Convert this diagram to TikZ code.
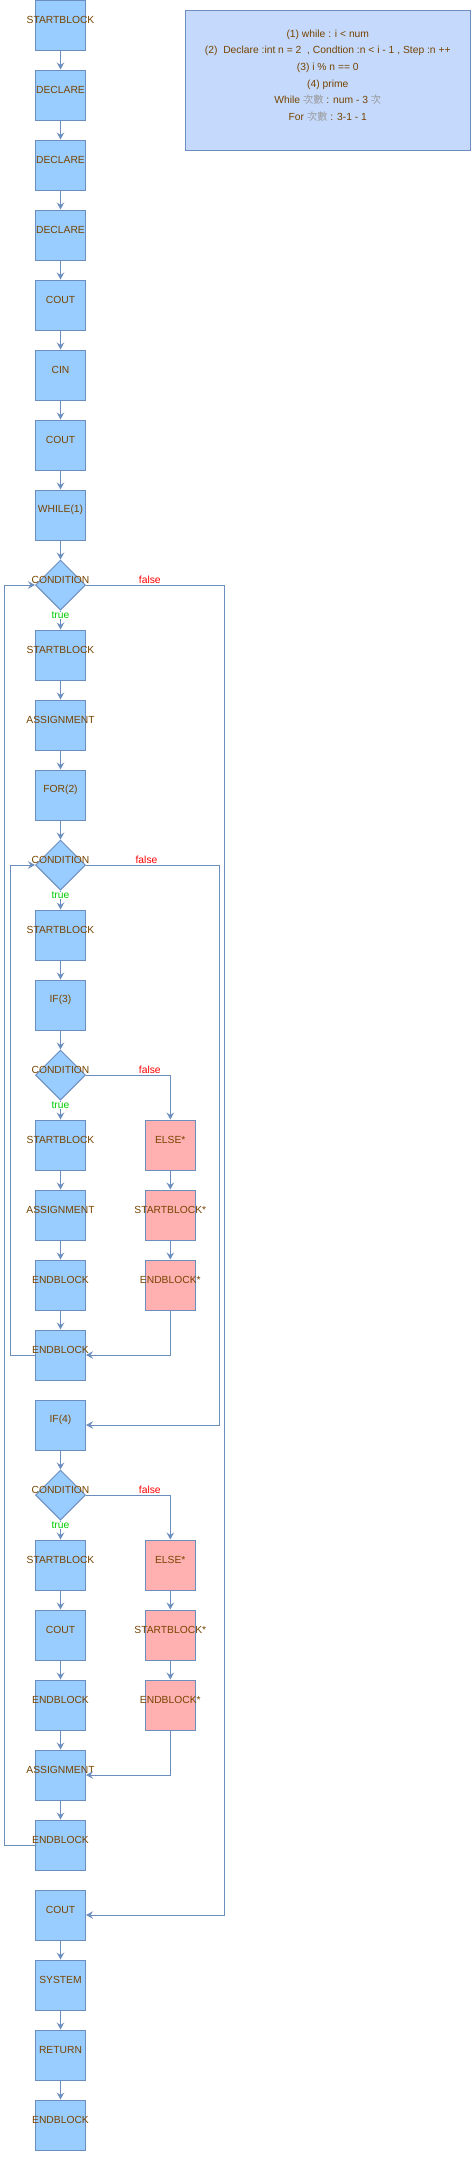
\documentclass[tikz,border=0pt]{standalone}
\usepackage{fontspec}
\setmainfont{Liberation Sans}
\newfontfamily\cjkfont{Noto Sans CJK TC}
\usetikzlibrary{shapes.geometric,arrows.meta,calc}
\definecolor{lineblue}{HTML}{6C8EBF}
\definecolor{boxblue}{HTML}{99CCFF}
\definecolor{boxpink}{HTML}{FFB0B0}
\definecolor{noteblue}{HTML}{C4D9FC}
\definecolor{txtbrown}{HTML}{774400}
\definecolor{truegreen}{HTML}{00CC00}
\definecolor{cjkgray}{HTML}{9A9A9A}
\newcommand{\nfont}{\fontsize{10.3}{12}\selectfont}
\newcommand{\cj}[1]{{\cjkfont\color{cjkgray}#1}}
\tikzset{
  box/.style={rectangle, draw=lineblue, fill=boxblue, line width=1pt, minimum width=50pt, minimum height=50pt, inner sep=0pt},
  pinkbox/.style={box, fill=boxpink},
  cond/.style={diamond, aspect=1, draw=lineblue, fill=boxblue, line width=1pt, minimum width=50pt, minimum height=50pt, inner sep=0pt},
  lbl/.style={text=txtbrown, font=\nfont, inner sep=0pt, yshift=5pt},
  arr/.style={draw=lineblue, line width=1pt, -{Stealth[length=7pt,width=7.5pt,inset=2.5pt]}},
  truel/.style={text=truegreen, font=\nfont, fill=white, inner sep=0.5pt},
  falsel/.style={text=red, font=\nfont, inner sep=0pt},
  notebox/.style={rectangle, draw=lineblue, fill=noteblue, line width=1pt, minimum width=285pt, minimum height=139.7pt, inner sep=0pt},
  notetext/.style={text=txtbrown, align=center, font=\fontsize{10.3}{16.7}\selectfont, inner sep=0pt}
}
\begin{document}
\begin{tikzpicture}[x=1pt,y=-1pt]
\useasboundingbox (0,0) rectangle (471,2172);
% note
\node[notebox] (note) at (327.8,80.15) {};
\node[notetext] (notet) at (327.8,75.5) {(1) while : i < num\\
(2)~ Declare :int n = 2~ , Condtion :n < i - 1 , Step :n ++\\
(3) i \% n == 0\\
(4) prime\\
While \cj{次數} : num - 3 \cj{次}\\
For \cj{次數} : 3-1 - 1};
% main column
\node[box, label={[lbl]center:STARTBLOCK}] (n0) at (60.5,25) {};
\node[box, label={[lbl]center:DECLARE}] (n1) at (60.5,95) {};
\node[box, label={[lbl]center:DECLARE}] (n2) at (60.5,165) {};
\node[box, label={[lbl]center:DECLARE}] (n3) at (60.5,235) {};
\node[box, label={[lbl]center:COUT}] (n4) at (60.5,305) {};
\node[box, label={[lbl]center:CIN}] (n5) at (60.5,375) {};
\node[box, label={[lbl]center:COUT}] (n6) at (60.5,445) {};
\node[box, label={[lbl]center:WHILE(1)}] (n7) at (60.5,515) {};
\node[cond, label={[lbl]center:CONDITION}] (c8) at (60.5,585) {};
\node[box, label={[lbl]center:STARTBLOCK}] (n9) at (60.5,655) {};
\node[box, label={[lbl]center:ASSIGNMENT}] (n10) at (60.5,725) {};
\node[box, label={[lbl]center:FOR(2)}] (n11) at (60.5,795) {};
\node[cond, label={[lbl]center:CONDITION}] (c12) at (60.5,865) {};
\node[box, label={[lbl]center:STARTBLOCK}] (n13) at (60.5,935) {};
\node[box, label={[lbl]center:IF(3)}] (n14) at (60.5,1005) {};
\node[cond, label={[lbl]center:CONDITION}] (c15) at (60.5,1075) {};
\node[box, label={[lbl]center:STARTBLOCK}] (n16) at (60.5,1145) {};
\node[box, label={[lbl]center:ASSIGNMENT}] (n17) at (60.5,1215) {};
\node[box, label={[lbl]center:ENDBLOCK}] (n18) at (60.5,1285) {};
\node[box, label={[lbl]center:ENDBLOCK}] (n19) at (60.5,1355) {};
\node[box, label={[lbl]center:IF(4)}] (n20) at (60.5,1425) {};
\node[cond, label={[lbl]center:CONDITION}] (c21) at (60.5,1495) {};
\node[box, label={[lbl]center:STARTBLOCK}] (n22) at (60.5,1565) {};
\node[box, label={[lbl]center:COUT}] (n23) at (60.5,1635) {};
\node[box, label={[lbl]center:ENDBLOCK}] (n24) at (60.5,1705) {};
\node[box, label={[lbl]center:ASSIGNMENT}] (n25) at (60.5,1775) {};
\node[box, label={[lbl]center:ENDBLOCK}] (n26) at (60.5,1845) {};
\node[box, label={[lbl]center:COUT}] (n27) at (60.5,1915) {};
\node[box, label={[lbl]center:SYSTEM}] (n28) at (60.5,1985) {};
\node[box, label={[lbl]center:RETURN}] (n29) at (60.5,2055) {};
\node[box, label={[lbl]center:ENDBLOCK}] (n30) at (60.5,2125) {};
% else columns
\node[pinkbox, label={[lbl]center:ELSE*}] (e16) at (170.3,1145) {};
\node[pinkbox, label={[lbl]center:STARTBLOCK*}] (e17) at (170.3,1215) {};
\node[pinkbox, label={[lbl]center:ENDBLOCK*}] (e18) at (170.3,1285) {};
\node[pinkbox, label={[lbl]center:ELSE*}] (f22) at (170.3,1565) {};
\node[pinkbox, label={[lbl]center:STARTBLOCK*}] (f23) at (170.3,1635) {};
\node[pinkbox, label={[lbl]center:ENDBLOCK*}] (f24) at (170.3,1705) {};
% straight arrows
\foreach \a/\b in {n0/n1,n1/n2,n2/n3,n3/n4,n4/n5,n5/n6,n6/n7,n7/c8,
  n9/n10,n10/n11,n11/c12,n13/n14,n14/c15,n16/n17,n17/n18,n18/n19,
  n20/c21,n22/n23,n23/n24,n24/n25,n25/n26,n27/n28,n28/n29,n29/n30,
  e16/e17,e17/e18,f22/f23,f23/f24}
  \draw[arr] (\a.south) -- (\b.north);
% true branches
\foreach \a/\b in {c8/n9,c12/n13,c15/n16,c21/n22}{
  \draw[arr] (\a.south) -- (\b.north);
  \node[truel] at ($(\a.south)+(0,5)$) {true};
}
% if false branches
\draw[arr] (c15.east) -| (e16.north);
\node[falsel] at ($(c15.east)+(63.8,-5)$) {false};
\draw[arr] (c21.east) -| (f22.north);
\node[falsel] at ($(c21.east)+(63.8,-5)$) {false};
% else merges
\draw[arr] (e18.south) |- (n19.east);
\draw[arr] (f24.south) |- (n25.east);
% inner for loop
\draw[arr] (n19.west) -- ++(-24.8,0) |- (c12.west);
\draw[arr] (c12.east) -- ++(133.8,0) |- (n20.east);
\node[falsel] at ($(c12.east)+(60.5,-5)$) {false};
% outer while loop
\draw[arr] (n26.west) -- ++(-30.2,0) |- (c8.west);
\draw[arr] (c8.east) -- ++(138.8,0) |- (n27.east);
\node[falsel] at ($(c8.east)+(63.8,-5)$) {false};
\end{tikzpicture}
\end{document}
